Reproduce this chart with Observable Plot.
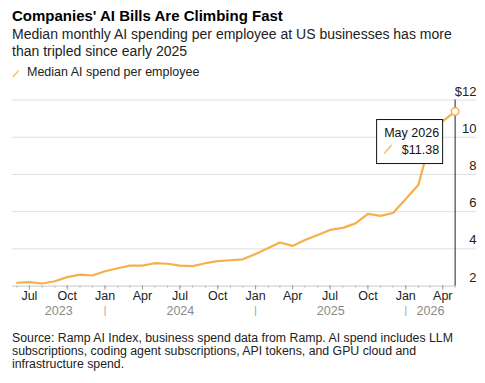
<!DOCTYPE html>
<html>
<head>
<meta charset="utf-8">
<script src="https://cdn.jsdelivr.net/npm/d3@7"></script>
<script src="https://cdn.jsdelivr.net/npm/@observablehq/plot@0.6"></script>
<style>
  body { margin: 0; background: #fff; width: 485px; height: 383px; position: relative; overflow: hidden;
         font-family: "Liberation Sans", Arial, Helvetica, sans-serif; color: #111; }
  .title { position: absolute; left: 12px; top: 6.5px; font-size: 15px; line-height: 18px; font-weight: bold; color: #000; }
  .subtitle { position: absolute; left: 12px; top: 26.4px; font-size: 14px; line-height: 16.5px; color: #222; }
  .legend { position: absolute; left: 12px; top: 64.5px; font-size: 12.5px; line-height: 15px; color: #222; }
  .legend svg { position: absolute; left: 0; top: 4px; }
  .legend span { position: absolute; left: 15px; white-space: nowrap; }
  #chart { position: absolute; left: 0; top: 82px; }
  .source { position: absolute; left: 12px; top: 332.3px; font-size: 12.3px; line-height: 13px; color: #222; white-space: nowrap; }
  g[aria-label="year"] text { letter-spacing: 1.2px; }
</style>
</head>
<body>
<div class="title">Companies' AI Bills Are Climbing Fast</div>
<div class="subtitle">Median monthly AI spending per employee at US businesses has more<br>than tripled since early 2025</div>
<div class="legend"><svg width="8" height="9"><line x1="1" y1="8" x2="6.5" y2="1.5" stroke="#f7c27a" stroke-width="1.6"/></svg><span>Median AI spend per employee</span></div>
<div id="chart"></div>
<div class="source">Source: Ramp AI Index, business spend data from Ramp. AI spend includes LLM<br>subscriptions, coding agent subscriptions, API tokens, and GPU cloud and<br>infrastructure spend.</div>
<script>
// Monthly median AI spend per employee, US dollars
const months = [
  "2023-06", "2023-07", "2023-08", "2023-09", "2023-10", "2023-11", "2023-12",
  "2024-01", "2024-02", "2024-03", "2024-04", "2024-05", "2024-06",
  "2024-07", "2024-08", "2024-09", "2024-10", "2024-11", "2024-12",
  "2025-01", "2025-02", "2025-03", "2025-04", "2025-05", "2025-06",
  "2025-07", "2025-08", "2025-09", "2025-10", "2025-11", "2025-12",
  "2026-01", "2026-02", "2026-03", "2026-04", "2026-05"
];
const spend = [
  2.18, 2.21, 2.14, 2.26, 2.48, 2.62, 2.57,
  2.80, 2.96, 3.10, 3.10, 3.23, 3.20,
  3.10, 3.07, 3.23, 3.34, 3.39, 3.44,
  3.73, 4.05, 4.34, 4.16, 4.48, 4.75,
  5.02, 5.13, 5.37, 5.88, 5.77, 5.93,
  6.68, 7.45, 9.80, 10.87, 11.38
];
const yTicks = [2, 4, 6, 8, 10, 12];
const gridValues = [4, 6, 8, 10, 12];
const years = ["2023", "2024", "2025", "2026"];

const orange = "#f6b04a";
const data = months.map((m, i) => ({date: new Date(m + "-01"), value: spend[i]}));
const last = data[data.length - 1];

const xStart = new Date("2023-05-21");
const xEnd = new Date("2026-06-22");

const monthTicks = d3.utcMonth.range(data[0].date, d3.utcDay.offset(last.date, 1));
const quarterTicks = monthTicks.filter(d => d.getUTCMonth() % 3 === 0);

// Each year label sits centred on the part of its year that the axis shows
const yearSpans = years.map(y => {
  const s = new Date(`${y}-01-01`), e = new Date(`${+y + 1}-01-01`);
  const a = s < xStart ? xStart : s, b = e > last.date ? last.date : e;
  return {label: y, mid: new Date((+a + +b) / 2)};
});
const yearBreaks = years.slice(1).map(y => new Date(`${y}-01-01`));

const chart = Plot.plot({
  width: 485,
  height: 240,
  marginLeft: 12,
  marginRight: 9,
  marginTop: 17.5,
  marginBottom: 36.4,
  style: {fontFamily: "'Liberation Sans', Arial, Helvetica, sans-serif", fontSize: "12.5px", color: "#222", background: "#fff", overflow: "visible"},
  x: {type: "utc", domain: [xStart, xEnd]},
  y: {domain: [2, 12], axis: null},
  marks: [
    Plot.ruleY(gridValues, {stroke: "#dedede", strokeWidth: 1}),
    Plot.ruleY([2], {x1: () => xStart, x2: () => last.date, stroke: "#c8c8c8"}),
    Plot.axisX({ticks: monthTicks, tickSize: 2, tickFormat: () => "", stroke: "#b0b0b0", label: null}),
    Plot.axisX({ticks: quarterTicks, tickSize: 4, tickPadding: 1.5, tickFormat: d3.utcFormat("%b"),
                stroke: "#999", fill: "#222", fontSize: 12.5, label: null}),
    Plot.text(yearSpans, {x: "mid", text: "label", frameAnchor: "bottom", lineAnchor: "top", dy: 20.5,
                          fill: "#8a8a8a", fontSize: 12.5, ariaLabel: "year"}),
    Plot.text(yearBreaks, {x: d => d, text: () => "|", frameAnchor: "bottom", lineAnchor: "top", dy: 21,
                           fill: "#999", fontSize: 10}),
    Plot.text(yTicks, {y: d => d, text: d => d === 12 ? "$12" : String(d), frameAnchor: "right",
                       textAnchor: "end", lineAnchor: "bottom", dy: -4.5, fill: "#222", fontSize: 13}),
    Plot.ruleX([last], {x: "date", y1: 2, y2: 12, stroke: "#222", strokeWidth: 1}),
    Plot.line(data, {x: "date", y: "value", stroke: orange, strokeWidth: 2.2, strokeLinejoin: "round", strokeLinecap: "round"}),
    Plot.dot([last], {x: "date", y: "value", r: 3.8, fill: "#fff", stroke: orange, strokeWidth: 1.5})
  ]
});

// Callout box for the latest month
const px = chart.scale("x").apply(last.date);
const py = chart.scale("y").apply(last.value);
const callout = d3.select(chart).append("g")
  .attr("transform", `translate(${px - 12},${py + 8.5})`)
  .attr("font-size", 12.5)
  .attr("fill", "#111");
callout.append("rect")
  .attr("x", -66).attr("y", 0).attr("width", 66).attr("height", 44)
  .attr("fill", "#fff").attr("stroke", "#111").attr("stroke-width", 1);
callout.append("text")
  .attr("x", -3.5).attr("y", 17.4).attr("text-anchor", "end")
  .text(d3.utcFormat("%b %Y")(last.date));
callout.append("line")
  .attr("x1", -57.7).attr("y1", 33.4).attr("x2", -51.5).attr("y2", 26)
  .attr("stroke", "#f7c27a").attr("stroke-width", 1.8).attr("stroke-linecap", "round");
callout.append("text")
  .attr("x", -3.5).attr("y", 34.7).attr("text-anchor", "end")
  .text(d3.format("$.2f")(last.value));

document.getElementById("chart").append(chart);
</script>
</body>
</html>
